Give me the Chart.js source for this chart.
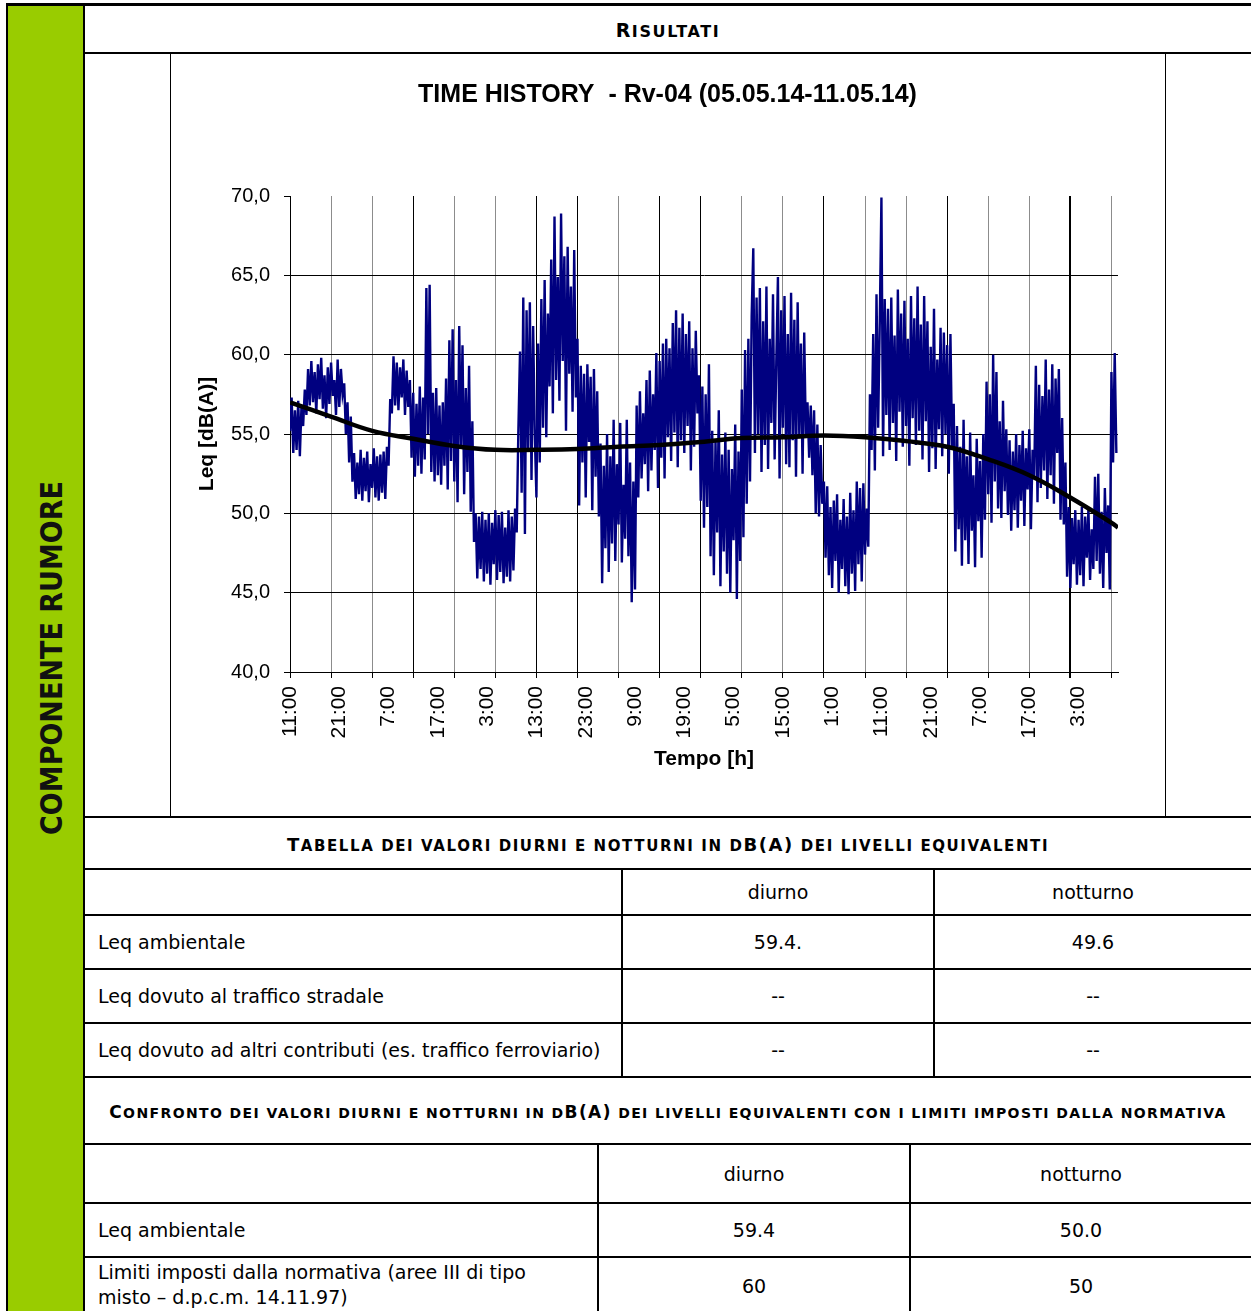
<!DOCTYPE html>
<html>
<head>
<meta charset="utf-8">
<script src="https://cdn.jsdelivr.net/npm/chart.js@4.4.0/dist/chart.umd.min.js"></script>
<style>
body { margin:0; background:#fff; width:1251px; height:1311px; overflow:hidden; position:relative;
       font-family:"DejaVu Sans",sans-serif; color:#000; }
.ln { position:absolute; background:#000; }
.t { position:absolute; display:flex; align-items:center; font-size:19px; white-space:nowrap; }
.c { justify-content:center; }
.hd b { font-size:18px; letter-spacing:1.6px; }
.hd b span { font-size:15px; }
.hd.r b { font-size:19px; }
.hd.r b span { font-size:16px; }
.hd.s b { font-size:17px; letter-spacing:1.4px; }
.hd.s b span { font-size:14px; }
#side { position:absolute; left:8px; top:5px; width:75px; height:1306px; background:#99cc00; }
#sideTxt { position:absolute; left:51px; top:658px; transform:translate(-50%,-50%) rotate(-90deg);
           font-family:"DejaVu Sans Condensed","DejaVu Sans",sans-serif;
           font-weight:bold; font-size:30px; white-space:nowrap; color:#111; }
#chartBox { position:absolute; left:171px; top:54px; width:993px; height:762px; }
</style>
</head>
<body>
<div id="side"></div>
<div id="sideTxt">COMPONENTE RUMORE</div>

<!-- linee della griglia della pagina -->
<div class="ln" style="left:6px;top:3px;width:1245px;height:3px"></div>
<div class="ln" style="left:6px;top:3px;width:2px;height:1308px"></div>
<div class="ln" style="left:83px;top:3px;width:2px;height:1308px"></div>
<div class="ln" style="left:85px;top:52px;width:1166px;height:2px"></div>
<div class="ln" style="left:170px;top:54px;width:1px;height:763px"></div>
<div class="ln" style="left:1165px;top:54px;width:1px;height:763px"></div>
<div class="ln" style="left:85px;top:816px;width:1166px;height:2px"></div>
<div class="ln" style="left:85px;top:868px;width:1166px;height:2px"></div>
<div class="ln" style="left:85px;top:914px;width:1166px;height:2px"></div>
<div class="ln" style="left:85px;top:968px;width:1166px;height:2px"></div>
<div class="ln" style="left:85px;top:1022px;width:1166px;height:2px"></div>
<div class="ln" style="left:85px;top:1076px;width:1166px;height:2px"></div>
<div class="ln" style="left:85px;top:1143px;width:1166px;height:2px"></div>
<div class="ln" style="left:85px;top:1202px;width:1166px;height:2px"></div>
<div class="ln" style="left:85px;top:1256px;width:1166px;height:2px"></div>
<div class="ln" style="left:621px;top:869px;width:2px;height:208px"></div>
<div class="ln" style="left:933px;top:869px;width:2px;height:208px"></div>
<div class="ln" style="left:597px;top:1144px;width:2px;height:167px"></div>
<div class="ln" style="left:909px;top:1144px;width:2px;height:167px"></div>

<div class="t c hd r" style="left:85px;top:7px;width:1166px;height:46px"><b>R<span>ISULTATI</span></b></div>
<div id="chartBox"><canvas id="thChart" width="993" height="762"></canvas></div>

<div class="t c hd" style="left:85px;top:819px;width:1166px;height:50px"><b>T<span>ABELLA DEI VALORI DIURNI E NOTTURNI IN D</span>B(A)<span> DEI LIVELLI EQUIVALENTI</span></b></div>
<div class="t c" style="left:623px;top:870px;width:310px;height:44px">diurno</div>
<div class="t c" style="left:935px;top:870px;width:316px;height:44px">notturno</div>
<div class="t" style="left:98px;top:916px;height:52px">Leq ambientale</div>
<div class="t c" style="left:623px;top:916px;width:310px;height:52px">59.4.</div>
<div class="t c" style="left:935px;top:916px;width:316px;height:52px">49.6</div>
<div class="t" style="left:98px;top:970px;height:52px">Leq dovuto al traffico stradale</div>
<div class="t c" style="left:623px;top:970px;width:310px;height:52px">--</div>
<div class="t c" style="left:935px;top:970px;width:316px;height:52px">--</div>
<div class="t" style="left:98px;top:1024px;height:52px">Leq dovuto ad altri contributi (es. traffico ferroviario)</div>
<div class="t c" style="left:623px;top:1024px;width:310px;height:52px">--</div>
<div class="t c" style="left:935px;top:1024px;width:316px;height:52px">--</div>

<div class="t c hd s" style="left:85px;top:1079px;width:1166px;height:65px"><b>C<span>ONFRONTO DEI VALORI DIURNI E NOTTURNI IN D</span>B(A)<span> DEI LIVELLI EQUIVALENTI CON I LIMITI IMPOSTI DALLA NORMATIVA</span></b></div>
<div class="t c" style="left:599px;top:1145px;width:310px;height:57px">diurno</div>
<div class="t c" style="left:911px;top:1145px;width:340px;height:57px">notturno</div>
<div class="t" style="left:98px;top:1204px;height:52px">Leq ambientale</div>
<div class="t c" style="left:599px;top:1204px;width:310px;height:52px">59.4</div>
<div class="t c" style="left:911px;top:1204px;width:340px;height:52px">50.0</div>
<div class="t" style="left:98px;top:1258px;height:53px;line-height:25px;white-space:normal">Limiti imposti dalla normativa (aree III di tipo<br>misto – d.p.c.m. 14.11.97)</div>
<div class="t c" style="left:599px;top:1258px;width:310px;height:56px">60</div>
<div class="t c" style="left:911px;top:1258px;width:340px;height:56px">50</div>

<script>
// etichette asse tempi (ogni 10 h a partire dalle 11:00 del 05.05.14)
const timeLabels = ['11:00', '21:00', '7:00', '17:00', '3:00', '13:00', '23:00', '9:00', '19:00',
    '5:00', '15:00', '1:00', '11:00', '21:00', '7:00', '17:00', '3:00'];
const yTicks = [40, 45, 50, 55, 60, 65, 70];

// Leq [dB(A)], un valore ogni 20 minuti (3 per ora), 168 ore
const leqValues = [
    55.2, 57.3, 53.8, 56.5, 54.0, 57.1, 53.6, 56.8, 55.5, 57.8, 56.2, 59.1, 56.8, 59.6, 57.0, 58.9, 56.3, 59.4, 57.2, 59.8, 56.6, 58.7, 56.0, 59.2, 56.9, 59.5, 57.4, 58.4, 56.2, 59.7,
    56.7, 59.1, 57.5, 58.2, 55.0, 57.0, 53.2, 56.1, 52.0, 53.8, 50.9, 53.2, 51.2, 54.0, 50.8, 53.5, 51.4, 53.9, 50.7, 53.1, 51.6, 54.1, 51.0, 53.6, 50.8, 53.7, 51.3, 53.9, 50.9, 54.2,
    53.0, 57.2, 56.3, 59.9, 56.8, 59.5, 56.5, 59.2, 57.3, 59.7, 56.2, 59.0, 56.7, 58.4, 53.5, 57.6, 52.3, 56.9, 53.0, 58.0, 52.5, 57.3, 53.4, 64.2, 55.0, 64.4, 52.6, 57.6, 52.0, 57.9,
    52.4, 56.8, 51.8, 57.0, 53.0, 58.5, 51.5, 60.9, 53.3, 61.6, 52.0, 58.4, 50.7, 61.8, 54.1, 60.6, 51.2, 57.9, 52.6, 59.3, 50.1, 55.8, 48.2, 50.0, 45.9, 49.8, 46.5, 50.1, 45.7, 49.6,
    46.2, 50.0, 45.5, 49.4, 46.8, 50.2, 45.8, 49.9, 46.3, 50.1, 45.6, 49.1, 46.0, 50.2, 45.7, 49.8, 46.4, 50.3, 48.8, 55.2, 60.2, 51.3, 63.6, 48.7, 62.8, 54.0, 63.3, 52.1, 61.8, 55.0,
    51.0, 60.7, 53.2, 63.5, 55.4, 64.7, 54.8, 62.6, 58.0, 66.0, 56.3, 68.7, 58.4, 64.9, 57.1, 68.9, 59.6, 66.2, 55.2, 66.8, 58.8, 64.3, 56.4, 66.6, 57.3, 61.0, 50.5, 59.3, 53.2, 58.8,
    51.0, 59.4, 54.5, 58.6, 50.2, 59.1, 52.3, 57.7, 49.8, 54.4, 45.6, 53.0, 47.8, 55.0, 46.3, 53.6, 48.1, 55.9, 47.0, 53.1, 49.3, 55.7, 46.9, 51.8, 48.4, 55.9, 47.3, 53.2, 44.4, 52.0,
    45.2, 56.8, 51.0, 57.7, 52.2, 56.3, 53.1, 58.4, 51.4, 59.0, 52.7, 57.5, 54.0, 60.1, 51.6, 59.6, 53.5, 60.7, 52.2, 61.0, 54.8, 60.4, 53.3, 62.0, 55.1, 62.8, 52.9, 61.7, 54.6, 62.6,
    53.8, 61.3, 55.5, 62.1, 52.7, 60.4, 54.2, 61.5, 56.3, 58.7, 50.8, 58.0, 49.1, 57.5, 50.4, 59.4, 47.3, 55.2, 46.1, 54.6, 48.8, 56.5, 45.4, 53.7, 47.6, 55.1, 46.2, 54.0, 45.0, 52.8,
    48.3, 55.6, 44.6, 53.9, 47.0, 57.8, 48.5, 60.3, 50.6, 61.0, 52.0, 62.4, 66.7, 53.8, 63.6, 55.0, 64.2, 52.6, 62.1, 54.3, 64.3, 52.8, 61.0, 55.7, 63.8, 53.4, 59.5, 64.9, 52.2, 62.8,
    55.4, 63.7, 53.1, 61.3, 52.9, 63.9, 54.6, 62.2, 52.3, 63.3, 55.0, 60.7, 52.5, 61.4, 54.8, 57.0, 53.5, 56.8, 52.4, 56.5, 50.0, 55.6, 49.8, 54.3, 50.6, 52.0, 47.2, 51.7, 46.1, 50.4,
    45.3, 50.8, 47.0, 51.2, 45.0, 49.6, 46.5, 50.9, 45.4, 49.8, 44.9, 51.3, 46.2, 50.2, 45.1, 52.0, 46.8, 51.6, 45.7, 51.9, 47.4, 50.3, 47.9, 57.5, 54.0, 61.3, 52.7, 63.8, 55.4, 62.1,
    69.9, 53.6, 63.5, 56.2, 62.9, 54.0, 63.6, 55.7, 61.2, 53.3, 64.1, 56.4, 62.6, 54.2, 63.4, 55.5, 61.0, 53.0, 63.7, 56.0, 62.3, 54.3, 64.3, 55.2, 61.9, 53.4, 63.7, 55.8, 62.1, 52.6,
    60.5, 54.1, 62.9, 52.8, 59.7, 55.3, 61.7, 53.6, 61.4, 55.0, 60.6, 52.5, 61.3, 54.2, 56.9, 47.6, 55.5, 49.0, 54.2, 46.7, 55.9, 48.3, 53.6, 46.8, 55.1, 48.9, 52.4, 46.6, 54.7, 49.5,
    53.3, 47.2, 55.0, 49.6, 58.3, 51.2, 57.5, 49.4, 60.0, 52.0, 58.9, 50.3, 55.8, 49.7, 57.1, 51.4, 55.3, 49.9, 54.6, 48.9, 53.9, 50.2, 55.0, 49.1, 54.3, 50.8, 55.2, 49.2, 54.1, 51.5,
    55.3, 49.0, 54.0, 52.2, 59.3, 50.7, 58.1, 51.6, 57.4, 52.7, 59.7, 50.9, 57.8, 52.4, 59.4, 50.6, 58.5, 53.8, 59.1, 49.6, 56.0, 49.3, 53.2, 46.0, 50.4, 45.3, 49.7, 46.8, 50.2, 45.5,
    49.6, 46.1, 50.4, 45.4, 49.8, 47.2, 50.3, 45.8, 49.0, 46.5, 52.3, 47.0, 52.5, 46.2, 50.1, 45.3, 51.6, 47.5, 50.5, 45.2, 58.9, 53.2, 60.1, 53.8
];

// linea di tendenza (polinomiale)
const trendHours = [0, 8.3, 16.7, 25, 33.3, 41.7, 50, 58.3, 66.7, 75, 83.3, 91.7, 100, 108.3, 116.7, 125, 133.3, 141.7, 150, 158.3, 166.7, 168];
const trendValues = [57.0, 56.1, 55.2, 54.7, 54.25, 54.0, 54.0, 54.05, 54.2, 54.3, 54.5, 54.75, 54.8, 54.9, 54.8, 54.55, 54.2, 53.4, 52.4, 51.0, 49.4, 49.1];

const POINTS_PER_HOUR = 3;
const TOTAL_HOURS = 168;
const GRID_STEP = 25 / 3; // segni di graduazione ogni 50 campioni da 10 min
const darkGrid = [0, 3, 6, 7, 9, 10, 13, 16, 19];

Chart.defaults.font.family = '"Liberation Sans", Arial, sans-serif';
Chart.defaults.color = '#000';

const ctx = document.getElementById('thChart').getContext('2d');
const thChart = new Chart(ctx, {
    type: 'line',
    data: {
        datasets: [{
            label: 'tendenza',
            data: trendHours.map((h, i) => ({ x: h, y: trendValues[i] })),
            borderColor: '#000',
            borderWidth: 4.5,
            pointRadius: 0,
            tension: 0.4,
            order: 0
        }, {
            label: 'Leq',
            data: leqValues.map((v, i) => ({ x: i / POINTS_PER_HOUR, y: v })),
            borderColor: '#000080',
            borderWidth: 2.4,
            pointRadius: 0,
            tension: 0,
            order: 1
        }]
    },
    options: {
        responsive: false,
        animation: false,
        layout: { padding: 0 },
        plugins: {
            legend: { display: false },
            tooltip: { enabled: false },
            title: {
                display: true,
                text: 'TIME HISTORY  - Rv-04 (05.05.14-11.05.14)',
                font: { size: 25, weight: 'bold' },
                color: '#000',
                padding: { top: 26, bottom: 86 }
            }
        },
        scales: {
            x: {
                type: 'linear',
                position: 'bottom',
                min: 0,
                max: TOTAL_HOURS,
                weight: 0,
                afterBuildTicks: (scale) => {
                    const t = [];
                    for (let k = 0; k * GRID_STEP <= TOTAL_HOURS; k++) t.push({ value: k * GRID_STEP });
                    scale.ticks = t;
                },
                afterFit: (scale) => { scale.height = 6; },
                ticks: { display: false },
                grid: {
                    color: (c) => darkGrid.includes(c.index) ? '#000' : '#8c8c8c',
                    tickColor: '#000',
                    lineWidth: (c) => c.index === 19 ? 2 : 1,
                    tickLength: 6
                },
                border: { color: '#000', width: 1 }
            },
            xl: {
                type: 'linear',
                position: 'bottom',
                min: 0,
                max: TOTAL_HOURS,
                weight: 1,
                afterBuildTicks: (scale) => {
                    scale.ticks = timeLabels.map((_, i) => ({ value: i * 10 }));
                },
                afterFit: (scale) => { scale.height = 138; },
                grid: { display: false },
                border: { display: false },
                ticks: {
                    autoSkip: false,
                    maxRotation: 90,
                    minRotation: 90,
                    padding: 0,
                    font: { size: 21 },
                    callback: (v, i) => timeLabels[i]
                },
                title: {
                    display: true,
                    text: 'Tempo [h]',
                    font: { size: 21, weight: 'bold' },
                    padding: { top: 0, bottom: 44 }
                }
            },
            y: {
                min: 40,
                max: 70,
                afterBuildTicks: (scale) => {
                    scale.ticks = yTicks.map(v => ({ value: v }));
                },
                afterFit: (scale) => { scale.width = 119; },
                ticks: {
                    padding: 14,
                    font: { size: 20 },
                    callback: (v) => v.toFixed(1).replace('.', ',')
                },
                grid: {
                    color: (c) => c.tick && c.tick.value === 70 ? 'rgba(0,0,0,0)' : '#000',
                    tickColor: '#000',
                    tickLength: 6
                },
                border: { color: '#000', width: 1 },
                title: {
                    display: true,
                    text: 'Leq [dB(A)]',
                    font: { size: 21, weight: 'bold' },
                    padding: { top: 24, bottom: 0 }
                }
            },
            // asse vuoto a destra: riserva lo spazio bianco oltre l'area del grafico
            yr: {
                position: 'right',
                min: 40,
                max: 70,
                grid: { display: false },
                border: { display: false },
                ticks: { display: false },
                afterFit: (scale) => { scale.width = 46; }
            }
        }
    }
});
</script>
</body>
</html>
